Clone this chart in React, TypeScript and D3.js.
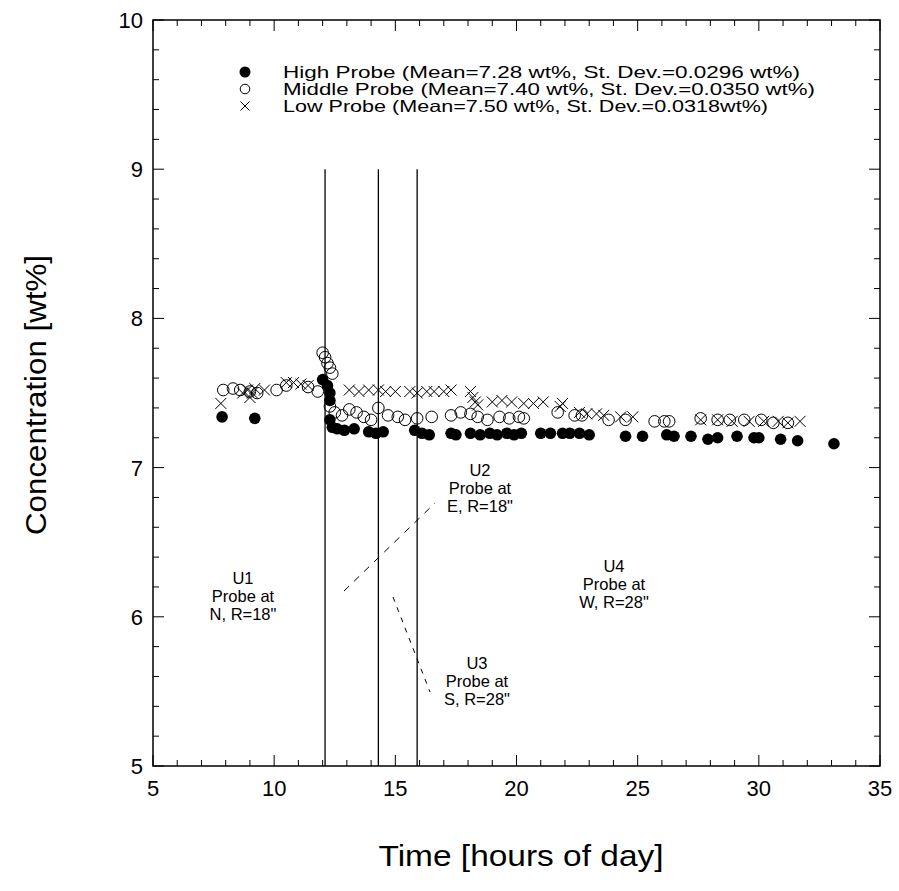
import React from "react";
import * as d3 from "d3";

const xTicks = [5, 10, 15, 20, 25, 30, 35];
const yTicks = [5, 6, 7, 8, 9, 10];
const unitLines = [12.1, 14.3, 15.9];

const legendLabels = [
  "High Probe  (Mean=7.28 wt%, St. Dev.=0.0296 wt%)",
  "Middle Probe (Mean=7.40 wt%, St. Dev.=0.0350 wt%)",
  "Low Probe (Mean=7.50 wt%, St. Dev.=0.0318wt%)",
];
const legendWidths = [517, 532, 485];

const highProbe: [number, number][] = [
  [7.85, 7.34], [9.2, 7.33],
  [12.0, 7.59], [12.2, 7.55], [12.3, 7.5], [12.3, 7.45], [12.3, 7.32], [12.4, 7.27],
  [12.6, 7.26], [12.9, 7.25], [13.3, 7.26], [13.9, 7.24], [14.2, 7.23], [14.5, 7.24],
  [15.8, 7.25], [16.1, 7.23], [16.4, 7.22],
  [17.3, 7.23], [17.5, 7.22], [18.1, 7.23], [18.5, 7.22], [18.9, 7.23], [19.2, 7.22],
  [19.6, 7.23], [19.9, 7.22], [20.2, 7.23],
  [21.0, 7.23], [21.4, 7.23], [21.9, 7.23], [22.2, 7.23], [22.6, 7.23], [23.0, 7.22],
  [24.5, 7.21], [25.2, 7.21], [26.2, 7.22], [26.5, 7.21], [27.2, 7.21],
  [27.9, 7.19], [28.3, 7.2], [29.1, 7.21], [29.8, 7.2], [30.0, 7.2],
  [30.9, 7.19], [31.6, 7.18], [33.1, 7.16],
];

const middleProbe: [number, number][] = [
  [7.9, 7.52], [8.3, 7.53], [8.6, 7.52], [9.0, 7.51], [9.3, 7.5],
  [10.1, 7.52], [10.5, 7.55], [11.4, 7.54], [11.8, 7.51],
  [12.0, 7.77], [12.1, 7.74], [12.2, 7.7], [12.3, 7.67], [12.4, 7.63],
  [12.3, 7.41], [12.5, 7.37], [12.8, 7.35], [13.1, 7.39], [13.4, 7.37], [13.7, 7.34], [14.0, 7.32],
  [14.3, 7.4], [14.7, 7.35], [15.1, 7.34], [15.4, 7.32], [15.9, 7.33], [16.5, 7.34],
  [17.3, 7.35], [17.7, 7.37], [18.1, 7.36], [18.4, 7.34], [18.8, 7.32], [19.3, 7.34], [19.7, 7.33],
  [20.1, 7.34], [20.3, 7.33],
  [21.7, 7.37], [22.4, 7.35], [22.7, 7.35], [23.8, 7.32], [24.5, 7.32],
  [25.7, 7.31], [26.1, 7.31], [26.3, 7.31],
  [27.6, 7.33], [28.3, 7.32], [28.8, 7.32], [29.4, 7.32], [30.1, 7.32], [30.6, 7.3], [31.2, 7.3],
];

const lowProbe: [number, number][] = [
  [7.8, 7.43], [8.7, 7.5], [8.9, 7.52], [9.0, 7.47], [9.1, 7.5], [9.2, 7.53], [9.6, 7.52],
  [10.5, 7.57], [10.8, 7.57], [11.1, 7.56], [11.4, 7.55],
  [13.1, 7.52], [13.5, 7.51], [13.9, 7.52], [14.3, 7.52], [14.6, 7.51], [15.0, 7.51],
  [15.6, 7.51], [15.9, 7.5], [16.3, 7.51], [16.6, 7.51], [17.0, 7.51], [17.3, 7.52],
  [18.1, 7.51], [18.2, 7.47], [18.3, 7.44], [18.4, 7.42],
  [19.0, 7.44], [19.4, 7.45], [19.8, 7.44], [20.3, 7.43], [20.7, 7.43], [21.1, 7.44],
  [21.8, 7.41], [21.9, 7.43], [22.6, 7.37], [22.9, 7.36], [23.3, 7.36], [23.6, 7.35],
  [24.3, 7.34], [24.8, 7.34],
  [27.6, 7.32], [28.3, 7.32], [28.9, 7.31], [29.6, 7.31], [30.2, 7.31], [30.8, 7.31], [31.2, 7.3], [31.7, 7.31],
];

const FONT = "'Liberation Sans', Arial, Helvetica, sans-serif";

export default function App() {
  const W = 899, H = 891;
  const left = 153, right = 880, top = 20, bottom = 766;
  const x = d3.scaleLinear().domain([5, 35]).range([left, right]);
  const y = d3.scaleLinear().domain([5, 10]).range([bottom, top]);

  const xMinor = d3.range(5, 35.01, 1);
  const yMinor = d3.range(5, 10.001, 0.2);

  const ticks: JSX.Element[] = [];
  xMinor.forEach((t, i) => {
    const major = Math.abs(t % 5) < 1e-6;
    const L = major ? 11 : 6;
    ticks.push(<line key={"xb" + i} x1={x(t)} x2={x(t)} y1={bottom} y2={bottom - L} stroke="#000" strokeWidth={1} />);
    ticks.push(<line key={"xt" + i} x1={x(t)} x2={x(t)} y1={top} y2={top + L} stroke="#000" strokeWidth={1} />);
  });
  yMinor.forEach((v, i) => {
    const major = Math.abs(v - Math.round(v)) < 1e-6;
    const L = major ? 11 : 6;
    ticks.push(<line key={"yl" + i} x1={left} x2={left + L} y1={y(v)} y2={y(v)} stroke="#000" strokeWidth={1} />);
    ticks.push(<line key={"yr" + i} x1={right} x2={right - L} y1={y(v)} y2={y(v)} stroke="#000" strokeWidth={1} />);
  });

  const cross = (cx: number, cy: number, s: number, k: string) => (
    <g key={k} stroke="#000" strokeWidth={1}>
      <line x1={cx - s} y1={cy - s} x2={cx + s} y2={cy + s} />
      <line x1={cx - s} y1={cy + s} x2={cx + s} y2={cy - s} />
    </g>
  );

  const annot = (cx: number, cy: number, lines: string[], k: string) => (
    <g key={k}>
      {lines.map((l, i) => (
        <text key={i} x={cx} y={cy + i * 18} textAnchor="middle" fontSize={16.5} fontFamily={FONT}>{l}</text>
      ))}
    </g>
  );

  const legendY = [72, 89, 106];

  return (
    <svg width={W} height={H} style={{ display: "block", position: "absolute", left: 0, top: 0, background: "#fff" }}>
      <rect x={0} y={0} width={W} height={H} fill="#fff" />
      <rect x={left} y={top} width={right - left} height={bottom - top} fill="none" stroke="#000" strokeWidth={1.5} />
      {ticks}
      {xTicks.map((t) => (
        <text key={"xl" + t} x={x(t)} y={bottom + 30} textAnchor="middle" fontSize={22} fontFamily={FONT}>{t}</text>
      ))}
      {yTicks.map((v) => (
        <text key={"yl" + v} x={left - 10} y={y(v) + 8} textAnchor="end" fontSize={22} fontFamily={FONT}>{v}</text>
      ))}
      <text x={521} y={866} textAnchor="middle" fontSize={30} fontFamily={FONT} textLength={285} lengthAdjust="spacingAndGlyphs">Time [hours of day]</text>
      <text transform={`translate(46,395) rotate(-90)`} textAnchor="middle" fontSize={30} fontFamily={FONT} textLength={280} lengthAdjust="spacingAndGlyphs">Concentration [wt%]</text>

      {unitLines.map((t) => (
        <line key={"ul" + t} x1={x(t)} x2={x(t)} y1={y(9)} y2={bottom} stroke="#000" strokeWidth={1.3} />
      ))}

      <line x1={344} y1={591} x2={435} y2={503} stroke="#000" strokeWidth={1} strokeDasharray="7,7" />
      <line x1={393} y1={597} x2={430} y2={692} stroke="#000" strokeWidth={1} strokeDasharray="5,6" />

      {annot(243, 584, ["U1", "Probe at", "N, R=18\""], "u1")}
      {annot(480, 476, ["U2", "Probe at", "E, R=18\""], "u2")}
      {annot(477, 669, ["U3", "Probe at", "S, R=28\""], "u3")}
      {annot(614, 572, ["U4", "Probe at", "W, R=28\""], "u4")}

      {middleProbe.map(([t, v], i) => (
        <circle key={"m" + i} cx={x(t)} cy={y(v)} r={5.8} fill="none" stroke="#000" strokeWidth={1} />
      ))}
      {lowProbe.map(([t, v], i) => cross(x(t), y(v), 5.5, "l" + i))}
      {highProbe.map(([t, v], i) => (
        <circle key={"h" + i} cx={x(t)} cy={y(v)} r={5.8} fill="#000" />
      ))}

      <circle cx={245} cy={legendY[0]} r={5.5} fill="#000" />
      <circle cx={245} cy={legendY[1]} r={4.8} fill="none" stroke="#000" strokeWidth={1} />
      {cross(245, legendY[2], 4.5, "lgx")}
      {legendLabels.map((l, i) => (
        <text key={"lg" + i} x={283} y={legendY[i] + 6} fontSize={16.5} fontFamily={FONT} textLength={legendWidths[i]} lengthAdjust="spacingAndGlyphs">{l}</text>
      ))}
    </svg>
  );
}
